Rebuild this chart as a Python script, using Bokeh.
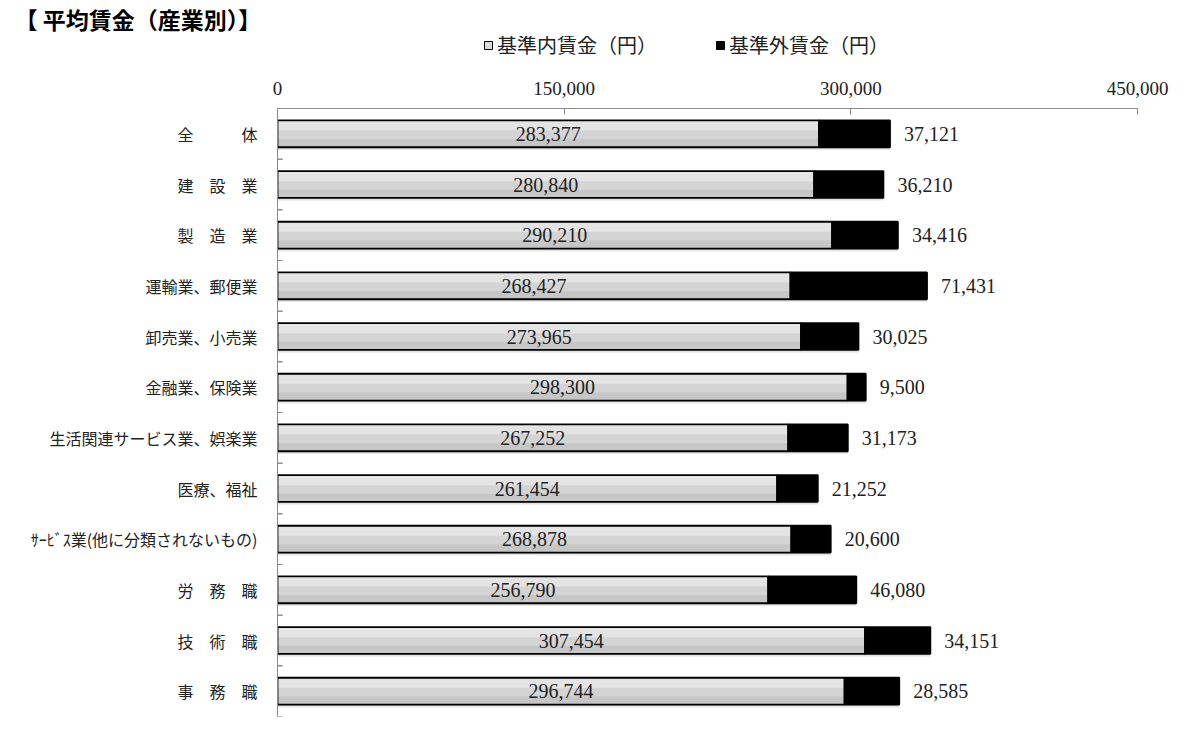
from bokeh.plotting import figure
from bokeh.layouts import column
from bokeh.models import (ColumnDataSource, FactorRange, FixedTicker, Legend,
                          LegendItem, LabelSet, NumeralTickFormatter)
from bokeh.transform import dodge
from bokeh.core.properties import value
from bokeh.embed import file_html
from bokeh.resources import INLINE

categories = ["全　　　体", "建　設　業", "製　造　業", "運輸業、郵便業", "卸売業、小売業",
              "金融業、保険業", "生活関連サービス業、娯楽業", "医療、福祉",
              "ｻｰﾋﾞｽ業(他に分類されないもの)", "労　務　職", "技　術　職", "事　務　職"]
base_wage = [283377, 280840, 290210, 268427, 273965, 298300, 267252, 261454, 268878,
             256790, 307454, 296744]
extra_wage = [37121, 36210, 34416, 71431, 30025, 9500, 31173, 21252, 20600, 46080,
              34151, 28585]
x_ticks = [0, 150000, 300000, 450000]
series_names = ["基準内賃金（円）", "基準外賃金（円）"]
title_text = "【 平均賃金（産業別）】"

JP = "Noto Sans CJK JP"
NUM = "Liberation Serif"
W = 1181
LEFT = 277
FRAME_W = 860
HEAD_H = 70
HEAD_TOP = 22

total = [b + e for b, e in zip(base_wage, extra_wage)]
src = ColumnDataSource(dict(
    cat=categories,
    base=base_wage,
    extra=extra_wage,
    total=total,
    mid=[b / 2 for b in base_wage],
    base_lbl=[f"{b:,}" for b in base_wage],
    extra_lbl=[f"{e:,}" for e in extra_wage],
    tick_end=[2600] * len(categories),
))

# ---------------- header: title + legend ----------------
head = figure(width=W, height=HEAD_H, x_range=(0, 1), y_range=(0, 1),
              output_backend="svg", toolbar_location=None,
              min_border_left=LEFT, min_border_right=W - LEFT - FRAME_W,
              min_border_top=HEAD_TOP, min_border_bottom=0)
head.axis.visible = False
head.grid.visible = False
head.outline_line_color = None
head.title.text = title_text
head.title.align = "left"
head.title.offset = -263
head.title.text_font = JP
head.title.text_font_size = "23px"
head.title.text_font_style = "bold"
head.title.text_color = "#000000"
head.title.standoff = 0
head.title.vertical_align = "middle"

nan = float("nan")
key_src = ColumnDataSource(dict(y=[nan], l=[nan], r=[nan]))
k1 = head.hbar(y="y", left="l", right="r", height=1, fill_color="#dcdcdc",
               line_color="#000000", line_width=1, source=key_src)
k2 = head.hbar(y="y", left="l", right="r", height=1, fill_color="#000000",
               line_color="#000000", line_width=1, source=key_src)

legend = Legend(items=[LegendItem(label=series_names[0], renderers=[k1]),
                       LegendItem(label=series_names[1], renderers=[k2])],
                orientation="horizontal", location=(483 - LEFT, HEAD_H - 46 - 13),
                glyph_width=10, glyph_height=10, label_standoff=4, spacing=58,
                padding=0, margin=0, border_line_color=None,
                background_fill_alpha=0,
                label_text_font=JP, label_text_font_size="20px",
                label_text_color="#222222", label_height=26)
head.add_layout(legend)

# ---------------- main chart ----------------
p = figure(width=W, height=732 - HEAD_H, y_range=FactorRange(*reversed(categories)),
           x_range=(0, 450000), x_axis_location="above",
           output_backend="svg", toolbar_location=None,
           min_border_left=LEFT, min_border_right=W - LEFT - FRAME_W,
           min_border_top=108 - HEAD_H, min_border_bottom=16)
p.outline_line_color = None
p.xgrid.grid_line_color = None
p.ygrid.grid_line_color = None
p.background_fill_color = "white"

BH = 0.53
# soft shadow
p.hbar(y=dodge("cat", -0.05, range=p.y_range), left=0, right="total", height=BH,
       fill_color="#bbbbbb", fill_alpha=0.45, line_color=None, source=src)
# gradient-like layers of the base bar
p.hbar(y="cat", left=0, right="base", height=BH, fill_color="#c6c6c6",
       line_color=None, source=src)
p.hbar(y=dodge("cat", 0.08, range=p.y_range), left=0, right="base", height=0.37,
       fill_color="#d4d4d4", line_color=None, source=src)
p.hbar(y=dodge("cat", 0.165, range=p.y_range), left=0, right="base", height=0.2,
       fill_color="#e4e4e4", line_color=None, source=src)
p.hbar(y="cat", left=0, right="base", height=BH, fill_color=None,
       line_color="#000000", line_width=1.8, source=src)
p.hbar(y="cat", left="base", right="total", height=BH, fill_color="#000000",
       line_color="#000000", line_width=1.8, source=src)

# boundary ticks on the category axis
for off in (0.5, -0.5):
    p.segment(x0=0, x1="tick_end", y0=dodge("cat", off, range=p.y_range),
              y1=dodge("cat", off, range=p.y_range), line_color="#888888",
              line_width=1, source=src)

p.add_layout(LabelSet(x="mid", y="cat", text="base_lbl", source=src,
                      text_align="center", text_baseline="middle",
                      text_font=value(NUM), text_font_size="20px",
                      text_color="#222222"))
p.add_layout(LabelSet(x="total", y="cat", text="extra_lbl", source=src,
                      x_offset=14, text_align="left", text_baseline="middle",
                      text_font=value(NUM), text_font_size="20px",
                      text_color="#222222"))

xa = p.xaxis[0]
xa.ticker = FixedTicker(ticks=x_ticks)
xa.formatter = NumeralTickFormatter(format="0,0")
xa.major_tick_in = 6
xa.major_tick_out = 0
xa.minor_tick_line_color = None
xa.axis_line_color = "#888888"
xa.major_tick_line_color = "#888888"
xa.major_label_text_font = NUM
xa.major_label_text_font_size = "19px"
xa.major_label_text_color = "#222222"
xa.major_label_standoff = 14

ya = p.yaxis[0]
ya.major_tick_line_color = None
ya.axis_line_color = "#888888"
ya.major_label_text_font = JP
ya.major_label_text_font_size = "16px"
ya.major_label_text_color = "#222222"
ya.major_label_standoff = 14

layout = column(head, p, spacing=0)
open("out.html", "w").write(file_html(layout, INLINE))
